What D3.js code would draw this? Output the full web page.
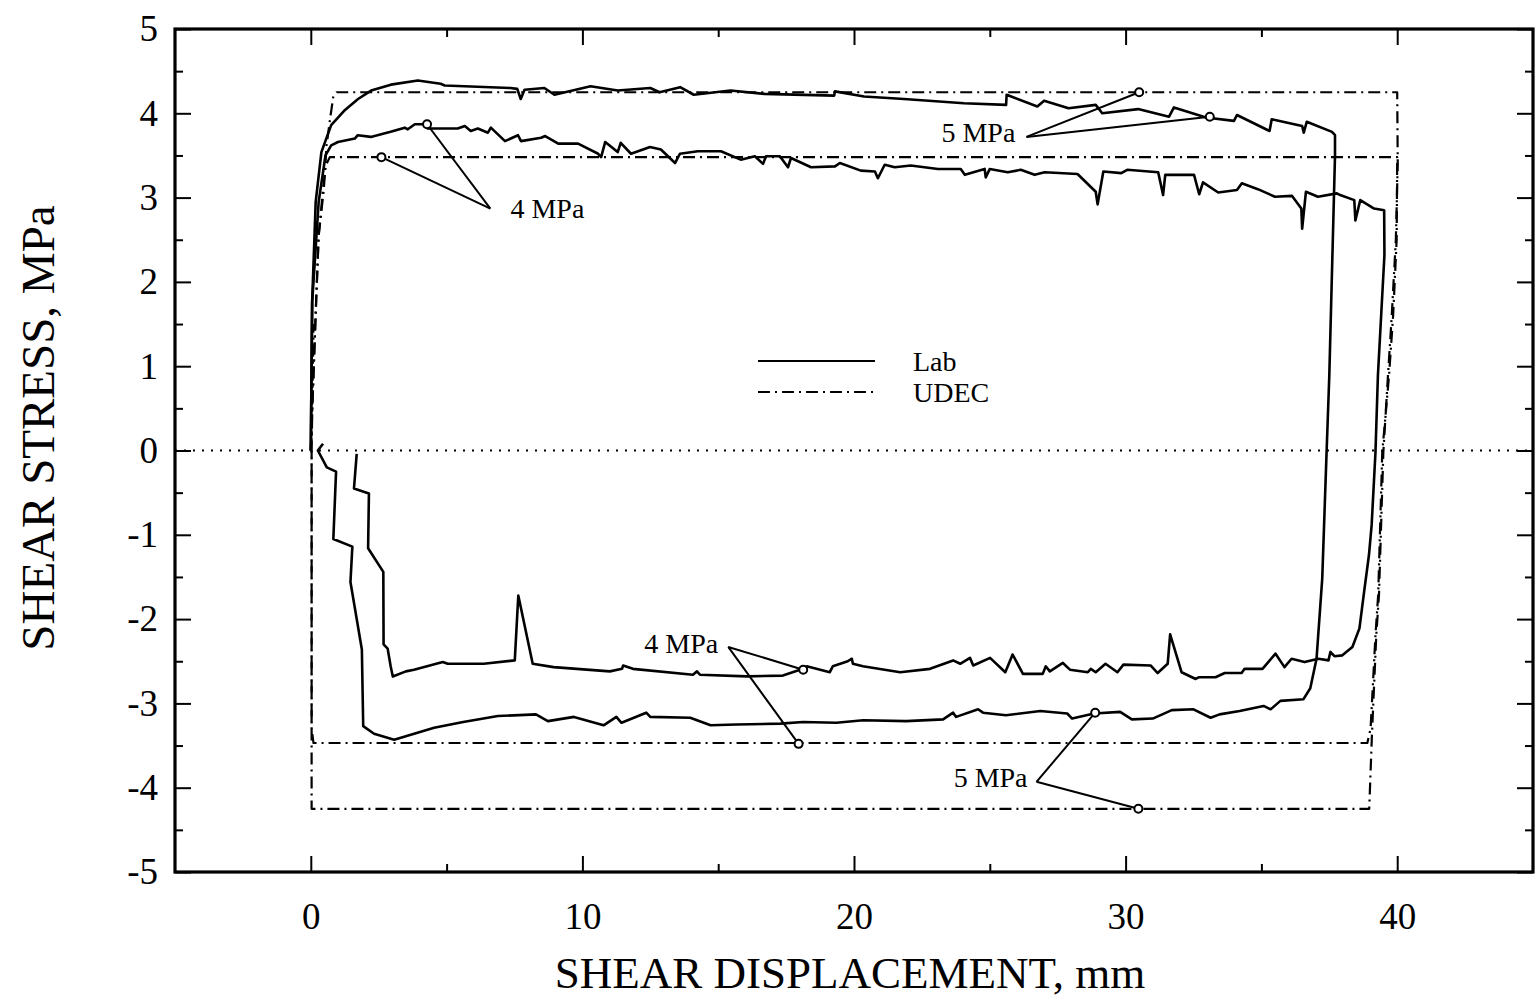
<!DOCTYPE html>
<html><head><meta charset="utf-8">
<script src="https://cdn.jsdelivr.net/npm/d3@7"></script>
<style>
html,body{margin:0;padding:0;background:#fff;}
svg{display:block;background:#fff;}
</style></head><body>
<svg id="chart" width="1537" height="1004"></svg>
<script>
// ---- data (shear displacement mm, shear stress MPa) ----
const xTickValues = [0, 10, 20, 30, 40];
const xMinorTicks = [5, 15, 25, 35];
const yTickValues = [-5, -4, -3, -2, -1, 0, 1, 2, 3, 4, 5];
const yMinorTicks = [-4.5, -3.5, -2.5, -1.5, -0.5, 0.5, 1.5, 2.5, 3.5, 4.5];

const lab5 = [
[0.00,0.00],[0.05,1.76],[0.18,2.95],[0.39,3.54],[0.75,3.86],[1.26,4.04],[1.74,4.17],[2.22,4.27],[2.95,4.34],[3.94,4.39],[4.78,4.35],[4.93,4.33],[7.35,4.30],[7.60,4.29],[7.73,4.17],[7.87,4.28],[8.60,4.30],[8.97,4.22],[10.30,4.32],[11.30,4.27],[12.50,4.30],[12.84,4.25],[13.60,4.31],[14.10,4.22],[15.45,4.27],[16.70,4.23],[19.27,4.21],[19.30,4.26],[20.37,4.20],[21.84,4.17],[24.05,4.12],[25.60,4.10],[25.62,4.22],[26.75,4.08],[27.00,4.15],[27.90,4.06],[28.90,4.10],[29.14,4.00],[30.46,4.05],[31.60,3.96],[31.78,4.07],[32.96,3.95],[33.99,3.91],[34.10,3.98],[35.30,3.79],[35.38,3.93],[36.50,3.85],[36.56,3.77],[36.67,3.90],[37.60,3.78],[37.71,3.74],[37.71,3.50],[37.50,0.89],[37.40,-0.02],[37.24,-1.52],[37.03,-2.47],[36.80,-2.82],[36.55,-2.95],[35.70,-2.97],[35.34,-3.07],[35.08,-3.03],[34.20,-3.09],[33.46,-3.13],[33.13,-3.17],[32.50,-3.07],[31.70,-3.08],[31.00,-3.18],[30.23,-3.19],[29.80,-3.10],[28.84,-3.12],[28.03,-3.18],[27.85,-3.12],[26.86,-3.09],[25.60,-3.14],[24.75,-3.11],[24.57,-3.07],[23.76,-3.16],[23.65,-3.11],[23.28,-3.19],[21.92,-3.21],[20.34,-3.20],[19.35,-3.23],[18.13,-3.22],[17.29,-3.24],[15.67,-3.25],[14.72,-3.26],[13.97,-3.17],[12.50,-3.16],[12.35,-3.11],[11.44,-3.23],[11.25,-3.16],[10.78,-3.26],[9.69,-3.16],[8.73,-3.21],[8.29,-3.13],[6.89,-3.15],[5.61,-3.22],[4.54,-3.29],[3.07,-3.43],[2.33,-3.36],[1.93,-3.27],[1.88,-2.36],[1.46,-1.56],[1.53,-1.14],[0.83,-1.05],[0.93,-0.25],[0.59,-0.20],[0.26,0.00],[0.45,0.08]
];

const lab4 = [
[0.00,0.00],[0.05,1.76],[0.29,2.95],[0.54,3.50],[0.75,3.62],[1.00,3.66],[1.62,3.70],[1.73,3.74],[2.21,3.72],[2.94,3.78],[3.46,3.83],[3.57,3.81],[3.83,3.87],[4.20,3.87],[4.31,3.82],[5.41,3.82],[5.67,3.85],[5.89,3.79],[6.15,3.82],[6.52,3.77],[6.63,3.83],[7.15,3.67],[7.63,3.74],[7.74,3.67],[8.48,3.71],[8.63,3.73],[9.11,3.64],[9.84,3.64],[10.58,3.52],[10.69,3.48],[10.84,3.66],[11.30,3.54],[11.41,3.65],[11.79,3.52],[12.49,3.60],[12.89,3.57],[13.41,3.41],[13.59,3.52],[14.25,3.55],[15.10,3.55],[15.83,3.45],[16.35,3.49],[16.65,3.40],[16.76,3.49],[17.27,3.49],[17.57,3.36],[17.68,3.47],[18.42,3.36],[19.30,3.37],[19.48,3.41],[20.25,3.32],[20.77,3.31],[20.88,3.23],[21.13,3.39],[21.50,3.36],[22.09,3.38],[23.09,3.34],[23.93,3.34],[24.08,3.27],[24.81,3.34],[24.85,3.24],[25.00,3.34],[25.66,3.30],[26.14,3.33],[26.65,3.27],[27.02,3.30],[28.23,3.28],[28.90,3.07],[28.97,2.92],[29.18,3.31],[29.84,3.29],[30.06,3.33],[31.20,3.30],[31.38,3.03],[31.46,3.27],[32.52,3.27],[32.71,3.04],[32.85,3.18],[33.41,3.06],[34.10,3.09],[34.28,3.17],[34.87,3.10],[35.50,3.01],[36.13,3.02],[36.47,2.87],[36.50,2.63],[36.64,3.07],[37.08,3.01],[37.78,3.05],[37.90,3.03],[38.42,2.97],[38.46,2.73],[38.64,2.97],[39.15,2.87],[39.52,2.85],[39.53,2.32],[39.29,0.89],[39.20,-0.02],[39.06,-0.88],[38.96,-1.24],[38.78,-1.68],[38.61,-2.11],[38.35,-2.33],[37.98,-2.43],[37.69,-2.44],[37.54,-2.39],[37.47,-2.49],[37.10,-2.47],[36.59,-2.51],[36.11,-2.47],[35.85,-2.57],[35.52,-2.41],[35.04,-2.59],[34.38,-2.59],[34.27,-2.64],[33.65,-2.64],[33.31,-2.69],[32.69,-2.69],[32.58,-2.71],[32.06,-2.63],[31.64,-2.18],[31.55,-2.53],[31.18,-2.64],[30.92,-2.55],[29.92,-2.54],[29.70,-2.63],[29.26,-2.53],[28.90,-2.63],[28.72,-2.59],[28.61,-2.63],[27.95,-2.60],[27.69,-2.52],[27.21,-2.62],[27.06,-2.56],[26.95,-2.65],[26.22,-2.65],[25.84,-2.42],[25.57,-2.63],[25.01,-2.46],[24.39,-2.55],[24.27,-2.46],[23.91,-2.53],[23.65,-2.49],[22.80,-2.59],[21.70,-2.63],[20.33,-2.56],[19.96,-2.53],[19.92,-2.47],[19.77,-2.50],[19.22,-2.56],[19.11,-2.63],[18.26,-2.56],[17.93,-2.61],[17.38,-2.67],[16.05,-2.68],[14.33,-2.66],[14.22,-2.62],[14.07,-2.66],[11.86,-2.59],[11.50,-2.55],[11.46,-2.59],[11.01,-2.62],[8.94,-2.57],[8.17,-2.53],[7.64,-1.72],[7.51,-2.49],[6.37,-2.53],[5.04,-2.53],[4.86,-2.51],[3.80,-2.60],[3.50,-2.62],[3.02,-2.68],[2.94,-2.56],[2.83,-2.35],[2.68,-2.30],[2.67,-1.44],[2.11,-1.16],[2.14,-0.51],[1.59,-0.45],[1.69,-0.04]
];

const udec5 = [
[0.00,0.00],[0.20,1.80],[0.29,2.55],[0.48,3.10],[0.58,3.62],[0.73,3.98],[0.83,4.20],[0.95,4.25],[40.00,4.25],[40.02,3.40],[39.95,2.50],[39.80,1.60],[39.66,0.89],[39.49,-0.02],[39.33,-1.71],[39.23,-2.19],[39.07,-3.37],[38.97,-4.25],[0.03,-4.25],[0.03,0.00],[0.10,1.50]
];

const udec4 = [
[0.00,0.00],[0.20,1.80],[0.29,2.55],[0.45,3.10],[0.55,3.38],[0.70,3.48],[40.00,3.48],[39.98,2.50],[39.85,1.60],[39.70,0.89],[39.45,-0.02],[39.30,-1.71],[39.20,-2.19],[39.02,-3.30],[38.90,-3.47],[0.10,-3.47],[0.03,-3.30],[0.03,0.00]
];

const seriesNames = ["Lab", "UDEC"];

const noteLabels = ["5 MPa", "4 MPa", "4 MPa", "5 MPa"];
const noteTextPos = [[25.94, 3.77], [7.35, 2.88], [15.00, -2.28], [26.39, -3.88]];
const noteAnchor = ["end", "start", "end", "end"];
const noteOrigin = [[26.35, 3.72], [6.61, 2.87], [15.37, -2.33], [26.72, -3.93]];
const noteTargets = [
  [[30.50, 4.25], [33.10, 3.96]],
  [[4.28, 3.87], [2.60, 3.48]],
  [[18.13, -2.60], [17.96, -3.48]],
  [[28.88, -3.11], [30.47, -4.25]]
];

// ---- drawing ----
const FONT = '"Liberation Serif","Times New Roman",serif';
const svg = d3.select("#chart");
const L = 175, R = 1533, T = 29, B = 872;
const x = d3.scaleLinear().domain([-5, 45]).range([L, R]);
const y = d3.scaleLinear().domain([-5, 5]).range([B, T]);

const DASHDOT = "12,5,2,5";

// zero dotted line
svg.append("line")
  .attr("x1", x(-5)).attr("x2", x(45)).attr("y1", y(0)).attr("y2", y(0))
  .attr("stroke", "#000").attr("stroke-width", 2).attr("stroke-dasharray", "2,7");

const line = d3.line().x(d => x(d[0])).y(d => y(d[1]));

function drawCurve(data, dashed) {
  svg.append("path").datum(data)
    .attr("d", line)
    .attr("fill", "none")
    .attr("stroke", "#000")
    .attr("stroke-width", dashed ? 2.2 : 2.6)
    .attr("stroke-linejoin", "round")
    .attr("stroke-dasharray", dashed ? DASHDOT : null);
}
drawCurve(udec5, true);
drawCurve(udec4, true);
drawCurve(lab5, false);
drawCurve(lab4, false);

// axes (inward ticks on all four sides)
function styleAxis(g) {
  g.select(".domain").remove();
  g.selectAll(".tick line").attr("stroke", "#000").attr("stroke-width", 2);
  g.attr("font-family", FONT).attr("font-size", 37);
  g.selectAll("text").attr("fill", "#000");
}
const fmt = d => String(d);
svg.append("g").attr("transform", `translate(0,${B})`)
  .call(d3.axisBottom(x).tickValues(xTickValues).tickSize(-16).tickPadding(31).tickFormat(fmt)).call(styleAxis);
svg.append("g").attr("transform", `translate(0,${B})`)
  .call(d3.axisBottom(x).tickValues(xMinorTicks).tickSize(-8).tickFormat(() => "")).call(styleAxis);
svg.append("g").attr("transform", `translate(0,${T})`)
  .call(d3.axisTop(x).tickValues(xTickValues).tickSize(-16).tickFormat(() => "")).call(styleAxis);
svg.append("g").attr("transform", `translate(0,${T})`)
  .call(d3.axisTop(x).tickValues(xMinorTicks).tickSize(-8).tickFormat(() => "")).call(styleAxis);
svg.append("g").attr("transform", `translate(${L},0)`)
  .call(d3.axisLeft(y).tickValues(yTickValues).tickSize(-16).tickPadding(17).tickFormat(fmt)).call(styleAxis);
svg.append("g").attr("transform", `translate(${L},0)`)
  .call(d3.axisLeft(y).tickValues(yMinorTicks).tickSize(-8).tickFormat(() => "")).call(styleAxis);
svg.append("g").attr("transform", `translate(${R},0)`)
  .call(d3.axisRight(y).tickValues(yTickValues).tickSize(-16).tickFormat(() => "")).call(styleAxis);
svg.append("g").attr("transform", `translate(${R},0)`)
  .call(d3.axisRight(y).tickValues(yMinorTicks).tickSize(-8).tickFormat(() => "")).call(styleAxis);

// frame
svg.append("rect").attr("x", L).attr("y", T).attr("width", R - L).attr("height", B - T)
  .attr("fill", "none").attr("stroke", "#000").attr("stroke-width", 3.2);

// annotations
noteLabels.forEach((lab, i) => {
  const o = noteOrigin[i];
  noteTargets[i].forEach(t => {
    svg.append("line")
      .attr("x1", x(o[0])).attr("y1", y(o[1])).attr("x2", x(t[0])).attr("y2", y(t[1]))
      .attr("stroke", "#000").attr("stroke-width", 2);
  });
  noteTargets[i].forEach(t => {
    svg.append("circle").attr("cx", x(t[0])).attr("cy", y(t[1])).attr("r", 4)
      .attr("fill", "#fff").attr("stroke", "#000").attr("stroke-width", 2);
  });
  svg.append("text")
    .attr("x", x(noteTextPos[i][0])).attr("y", y(noteTextPos[i][1]))
    .attr("dy", "0.35em")
    .attr("text-anchor", noteAnchor[i])
    .attr("font-family", FONT).attr("font-size", 28)
    .text(lab);
});

// legend
const legend = svg.append("g");
seriesNames.forEach((name, i) => {
  const yy = 361 + i * 31;
  legend.append("line").attr("x1", 758).attr("x2", 875).attr("y1", yy).attr("y2", yy)
    .attr("stroke", "#000").attr("stroke-width", 2)
    .attr("stroke-dasharray", i === 1 ? DASHDOT : null);
  legend.append("text").attr("x", 913).attr("y", yy + 10)
    .attr("font-family", FONT).attr("font-size", 28).text(name);
});

// axis titles
svg.append("text").attr("x", 850).attr("y", 988).attr("text-anchor", "middle")
  .attr("font-family", FONT).attr("font-size", 45).text("SHEAR DISPLACEMENT, mm");
svg.append("text").attr("transform", "translate(54,428) rotate(-90)").attr("text-anchor", "middle")
  .attr("font-family", FONT).attr("font-size", 47).text("SHEAR STRESS, MPa");
</script>
</body></html>
